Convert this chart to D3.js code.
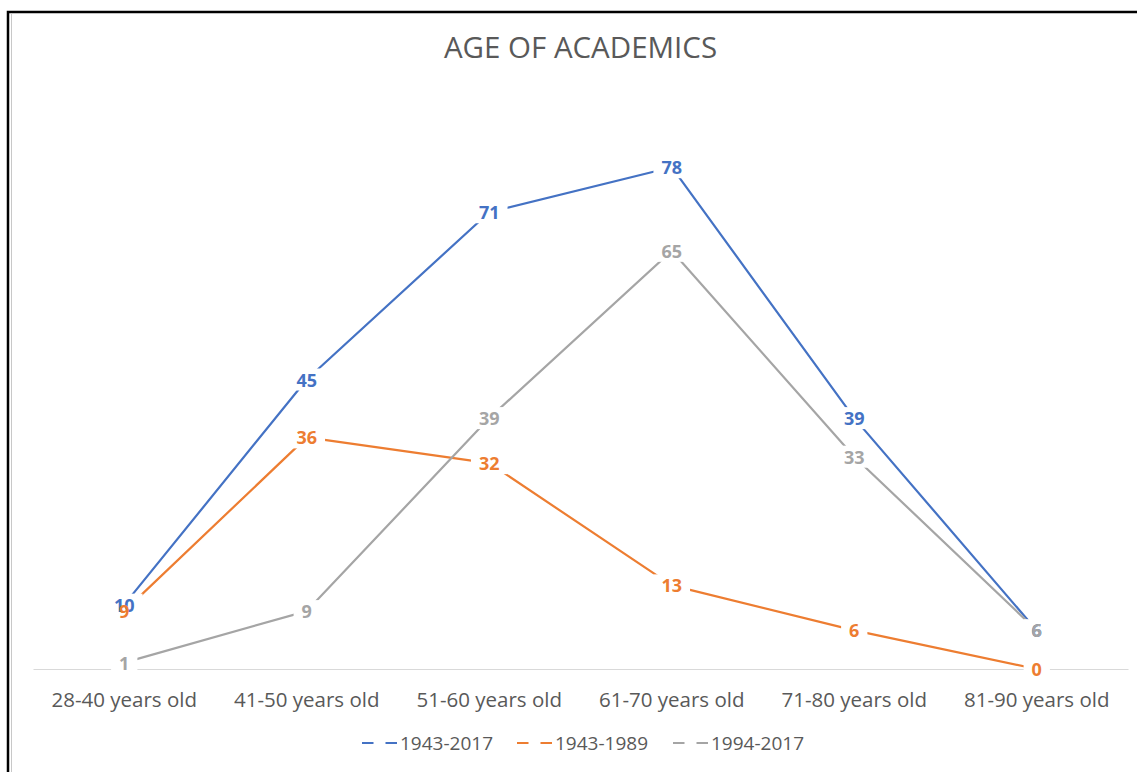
<!DOCTYPE html>
<html>
<head>
<meta charset="utf-8">
<script src="https://cdn.jsdelivr.net/npm/d3@7"></script>
<style>
  html, body { margin: 0; padding: 0; background: #fff; }
  svg { display: block; font-family: "Open Sans", "Noto Sans", sans-serif; }
</style>
</head>
<body>
<svg id="chart" width="1137" height="772"></svg>
<script>
// Age bands of academics and counts per period
const categories = ["28-40 years old", "41-50 years old", "51-60 years old",
                    "61-70 years old", "71-80 years old", "81-90 years old"];
const seriesNames = ["1943-2017", "1943-1989", "1994-2017"];
const values1943_2017 = [10, 45, 71, 78, 39, 6];
const values1943_1989 = [9, 36, 32, 13, 6, 0];
const values1994_2017 = [1, 9, 39, 65, 33, 6];
const seriesColors = ["#4472c4", "#ed7d31", "#a5a5a5"];
const yDomain = [0, 90];

const series = [values1943_2017, values1943_1989, values1994_2017].map((vals, i) => ({
  name: seriesNames[i],
  color: seriesColors[i],
  points: vals.map((v, j) => ({ cat: categories[j], value: v }))
}));

const svg = d3.select("#chart");

// Outer frame of the embedded figure
svg.append("path")
  .attr("d", "M8,790 L8,12 L1160,12")
  .attr("fill", "none").attr("stroke", "#000").attr("stroke-width", 2.5);
svg.append("line")
  .attr("x1", 11.5).attr("x2", 11.5).attr("y1", 13.5).attr("y2", 790)
  .attr("stroke", "#c8c8c8").attr("stroke-width", 1);

const plot = { left: 33, right: 1128, top: 90, bottom: 669 };

const x = d3.scaleBand().domain(categories).range([plot.left, plot.right]);
const y = d3.scaleLinear().domain(yDomain).range([plot.bottom, plot.top]);
const cx = c => x(c) + x.bandwidth() / 2;

// Title
svg.append("text")
  .attr("x", (plot.left + plot.right) / 2).attr("y", 58)
  .attr("text-anchor", "middle")
  .attr("font-size", 29.5).attr("fill", "#595959")
  .text("AGE OF ACADEMICS");

// Category axis: baseline and labels
const xAxis = svg.append("g")
  .attr("transform", `translate(0,${plot.bottom})`)
  .call(d3.axisBottom(x).tickSize(0).tickPadding(23));
xAxis.select(".domain").attr("stroke", "#d9d9d9").attr("stroke-width", 1.2);
xAxis.selectAll("text")
  .attr("font-family", "\"Open Sans\", sans-serif")
  .attr("font-size", 20.5).attr("fill", "#595959");

// Series lines
const line = d3.line().x(d => cx(d.cat)).y(d => y(d.value));
svg.append("g").selectAll("path")
  .data(series).join("path")
  .attr("d", d => line(d.points))
  .attr("fill", "none")
  .attr("stroke", d => d.color)
  .attr("stroke-width", 2.2)
  .attr("stroke-linejoin", "round");

// Data labels: white backing boxes first, then the numbers
const labelFont = 18;
const labels = series.flatMap(s => s.points.map(p => ({ ...p, color: s.color })));
const boxLayer = svg.append("g");
const textLayer = svg.append("g");
labels.forEach(d => {
  const t = textLayer.append("text")
    .attr("x", cx(d.cat)).attr("y", y(d.value))
    .attr("text-anchor", "middle").attr("dominant-baseline", "central")
    .attr("font-size", labelFont).attr("font-weight", 700)
    .attr("fill", d.color)
    .text(d.value);
  const w = t.node().getComputedTextLength();
  boxLayer.append("rect")
    .attr("x", cx(d.cat) - w / 2 - 8).attr("y", y(d.value) - 11)
    .attr("width", w + 16).attr("height", 22)
    .attr("fill", "#fff");
});

// Legend
const legendItems = [
  { name: seriesNames[0], color: seriesColors[0], x: 362 },
  { name: seriesNames[1], color: seriesColors[1], x: 517 },
  { name: seriesNames[2], color: seriesColors[2], x: 673 }
];
const legend = svg.append("g").attr("transform", "translate(0,743)");
legendItems.forEach(it => {
  legend.append("line")
    .attr("x1", it.x).attr("x2", it.x + 35).attr("y1", 0).attr("y2", 0)
    .attr("stroke", it.color).attr("stroke-width", 2.2)
    .attr("stroke-dasharray", "11.5,12");
  legend.append("text")
    .attr("x", it.x + 38).attr("y", 0)
    .attr("dominant-baseline", "central")
    .attr("font-size", 19).attr("fill", "#595959")
    .text(it.name);
});
</script>
</body>
</html>
